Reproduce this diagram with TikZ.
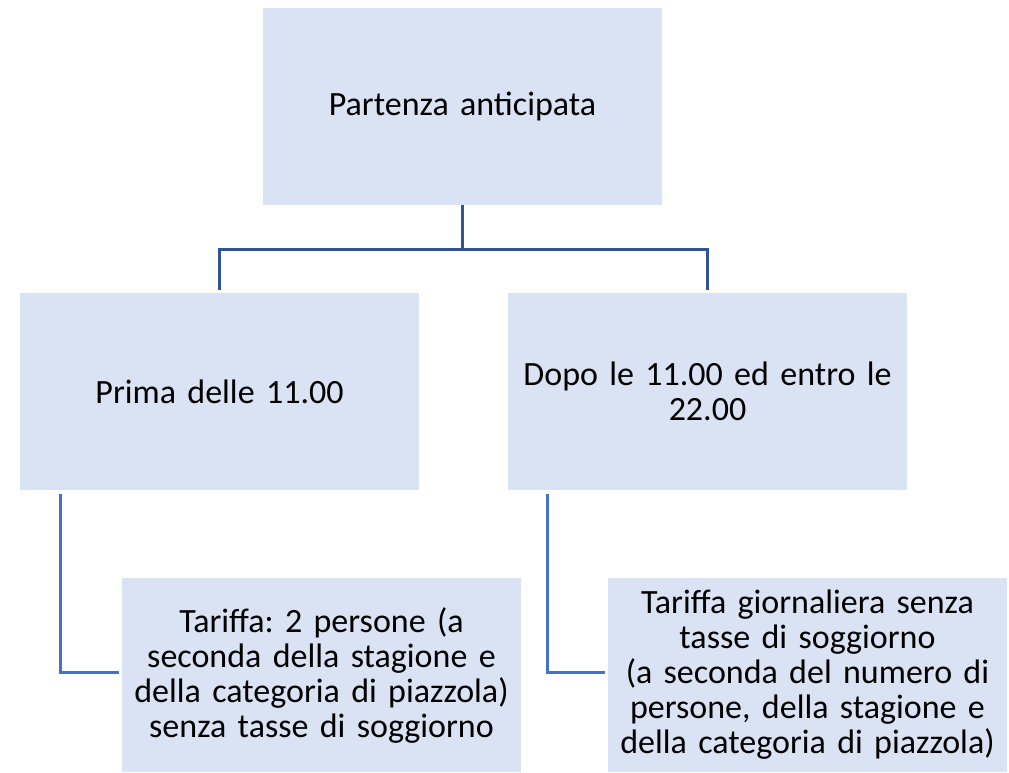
\documentclass[tikz,border=0pt]{standalone}
\usepackage{fontspec}
\setmainfont{Carlito}
\usepackage{xcolor}
\usepackage{tikz}
\usetikzlibrary{calc}
\usetikzlibrary{positioning}
\definecolor{boxfill}{HTML}{DAE3F3}
\definecolor{treeblue}{HTML}{2F5597}
\definecolor{linkblue}{HTML}{4472C4}
\tikzstyle{block}    = [rectangle, fill=boxfill, text width=396pt, align=center, minimum width=399pt, minimum height=197pt, inner sep=0pt, font=\frenchspacing\fontsize{34}{35}\selectfont]
\tikzstyle{line}     = [draw, treeblue, line width=3.2pt]
\tikzstyle{link}     = [draw, linkblue, line width=3pt]

\begin{document}
\begin{tikzpicture}[x=1pt, y=-1pt, node distance=488pt]
        \useasboundingbox (0,0) rectangle (1009,772);
        \node [block] (top) at (462.5,106.5) {Partenza anticipata};
        \node [block] (prima) at (219.5,391.5) {Prima delle 11.00};
        \node [block, right of=prima] (dopo) {Dopo le 11.00 ed entro le\\22.00};
        \node [block, minimum height=194pt] (tarA) at (321.5,675) {Tariffa: 2 persone (a\\seconda della stagione e\\della categoria di piazzola)\\senza tasse di soggiorno};
        \node [block, minimum height=194pt, right of=tarA, node distance=486pt] (tarB) {Tariffa giornaliera senza\\tasse di soggiorno\\(a seconda del numero di\\persone, della stagione e\\della categoria di piazzola)};
        % albero in alto
        \path [line] (top.south) -- ++(0,44) coordinate (split) -| ([yshift=3pt]prima.north);
        \path [line] (split) -| ([yshift=3pt]dopo.north);
        % collegamenti in basso
        \path [link] ([xshift=-159.5pt,yshift=-4pt]prima.south) |- ([xshift=-3pt,yshift=3pt]tarA.west);
        \path [link] ([xshift=-160.5pt,yshift=-4pt]dopo.south) |- ([xshift=-3pt,yshift=3pt]tarB.west);
    \end{tikzpicture}
\end{document}
